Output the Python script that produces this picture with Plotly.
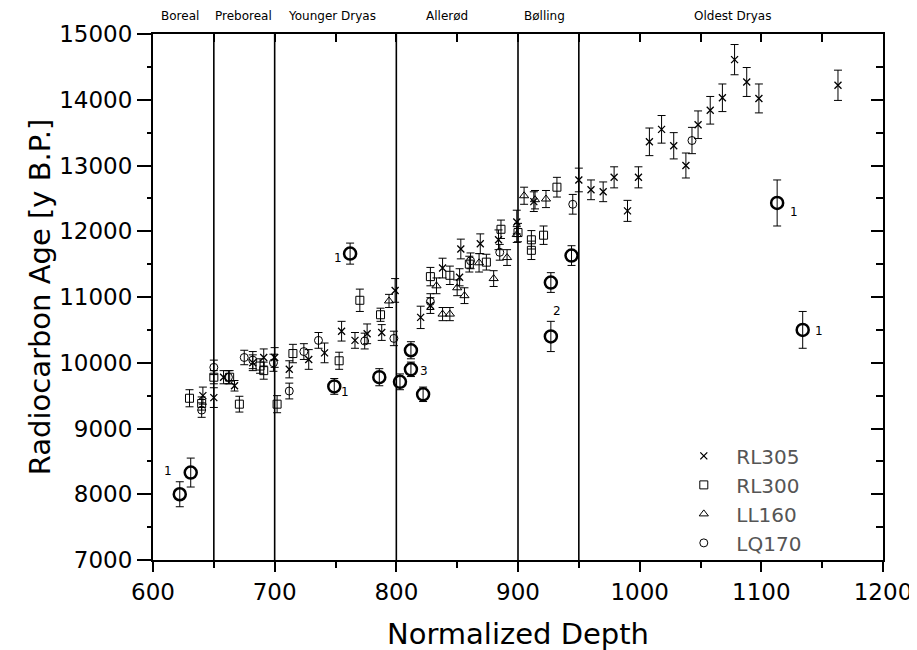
import plotly.graph_objects as go

# depth vs radiocarbon age, four cores
rl305_x = [641, 650, 658, 667, 682, 691, 700, 712, 728, 741, 755, 766, 776, 788, 799, 820, 828, 838,
           852, 853, 869, 884, 899, 913, 950, 960, 970, 979, 990, 999, 1008, 1018, 1028, 1038, 1048,
           1058, 1068, 1078, 1088, 1098, 1163]
rl305_y = [9500, 9470, 9780, 9650, 10000, 10080, 10080, 9900, 10050, 10150, 10480, 10340, 10440, 10460,
           11100, 10690, 10870, 11440, 11300, 11730, 11810, 11870, 12140, 12450, 12780, 12630, 12600,
           12820, 12310, 12820, 13360, 13550, 13300, 13000, 13620, 13840, 14030, 14610, 14270, 14020, 14220]
rl305_err = [130, 150, 100, 80, 120, 130, 150, 130, 150, 150, 150, 120, 150, 120, 180, 170, 120, 150,
             130, 150, 150, 150, 180, 150, 180, 150, 150, 160, 160, 160, 210, 210, 200, 190, 210,
             210, 210, 230, 220, 220, 230]

rl300_x = [630, 640, 650, 663, 671, 688, 691, 702, 715, 753, 770, 787, 828, 844, 860, 874, 886, 900,
           911, 911, 921, 932]
rl300_y = [9460, 9380, 9780, 9780, 9370, 9950, 9880, 9370, 10140, 10030, 10950, 10730, 11310, 11330,
           11500, 11530, 12030, 11980, 11870, 11710, 11940, 12670]
rl300_err = [130, 100, 100, 100, 120, 110, 130, 130, 140, 130, 170, 100, 140, 140, 120, 120, 140, 140,
             140, 140, 140, 150]

ll160_x = [794, 833, 838, 844, 850, 856, 868, 880, 891, 899, 905, 914, 923]
ll160_y = [10940, 11170, 10740, 10740, 11140, 11020, 11520, 11280, 11600, 11950, 12540, 12480, 12490]
ll160_err = [100, 120, 100, 100, 120, 120, 140, 120, 120, 120, 130, 140, 130]

lq170_x = [640, 650, 662, 675, 682, 699, 712, 724, 736, 774, 798, 828, 861, 885, 945, 1043]
lq170_y = [9280, 9930, 9780, 10080, 10040, 10000, 9570, 10170, 10340, 10330, 10370, 10930, 11550,
           11680, 12410, 13380]
lq170_err = [110, 110, 100, 110, 130, 130, 120, 120, 120, 120, 110, 120, 120, 120, 150, 200]

# LQ170 samples drawn heavier (outliers)
lq170b_x = [622, 631, 749, 762, 786, 803, 812, 812, 822, 927, 927, 944, 1113, 1134]
lq170b_y = [8000, 8330, 9640, 11660, 9780, 9710, 10190, 9900, 9520, 11220, 10400, 11630, 12430, 10500]
lq170b_err = [190, 220, 120, 160, 130, 120, 130, 110, 110, 150, 230, 150, 350, 280]

# outlier notes
note_x = [612, 758, 752, 823, 932, 1127, 1147]
note_y = [8350, 9560, 11590, 9880, 10790, 12290, 10480]
note_txt = ["1", "1", "1", "3", "2", "1", "1"]

# chronozones
zone_bounds = [650, 700, 800, 900, 950]
zone_names = ["Boreal", "Preboreal", "Younger Dryas", "Allerød", "Bølling", "Oldest Dryas"]
zone_label_x = [622, 674, 747, 842, 922, 1076]

x_range = [600, 1200]
y_range = [7000, 15000]

FONT = "DejaVu Sans"

fig = go.Figure()


def add_series(x, y, err, name, symbol, size, lw, legend=True):
    fig.add_trace(go.Scatter(
        x=x, y=y, mode="markers", name=name, showlegend=legend,
        marker=dict(symbol=symbol, size=size, color="black", line=dict(color="black", width=lw)),
        error_y=dict(type="data", array=err, visible=True, color="black", thickness=1, width=4),
    ))


add_series(rl305_x, rl305_y, rl305_err, "RL305", "x-thin-open", 7, 1.3)
add_series(rl300_x, rl300_y, rl300_err, "RL300", "square-open", 8, 1)
add_series(ll160_x, ll160_y, ll160_err, "LL160", "triangle-up-open", 8, 1)
add_series(lq170_x, lq170_y, lq170_err, "LQ170", "circle-open", 8, 1)
add_series(lq170b_x, lq170b_y, lq170b_err, "LQ170", "circle-open", 12, 2.5, legend=False)

# invisible helper so the top/right frame axes get drawn
fig.add_trace(go.Scatter(x=x_range, y=y_range, xaxis="x2", yaxis="y2", mode="none",
                         showlegend=False, hoverinfo="skip"))

for xb in zone_bounds:
    fig.add_shape(type="line", xref="x", yref="paper", x0=xb, x1=xb, y0=0, y1=1,
                  line=dict(color="black", width=1.6))

for name, xl in zip(zone_names, zone_label_x):
    fig.add_annotation(x=xl, y=1.035, xref="x", yref="paper", yanchor="middle", text=name,
                       showarrow=False, font=dict(size=12, color="black", family=FONT))

for xt, yt, t in zip(note_x, note_y, note_txt):
    fig.add_annotation(x=xt, y=yt, text=t, showarrow=False, font=dict(size=12, color="black", family=FONT))

axis_common = dict(showgrid=False, zeroline=False, showline=True, linecolor="black", linewidth=2,
                   tickcolor="black", tickwidth=1.5, automargin=False)

# the page body adds an 8px offset, margins account for it
fig.update_layout(
    width=917, height=650,
    margin=dict(l=145, r=42, t=26, b=98),
    paper_bgcolor="white", plot_bgcolor="white",
    font=dict(family=FONT, color="black"),
    xaxis=dict(range=x_range, dtick=100, ticks="outside", ticklen=10,
               tickfont=dict(size=23), minor=dict(dtick=50, ticks="outside", ticklen=6, tickcolor="black"),
               title=dict(text="Normalized Depth", font=dict(size=29), standoff=20), **axis_common),
    yaxis=dict(range=y_range, dtick=1000, ticks="outside", ticklen=14, tickformat="d",
               tickfont=dict(size=23), minor=dict(dtick=500, ticks="outside", ticklen=4, tickcolor="black"),
               title=dict(text="Radiocarbon Age [y B.P.]", font=dict(size=29), standoff=0), **axis_common),
    xaxis2=dict(range=x_range, overlaying="x", side="top", dtick=50, ticks="inside", ticklen=8,
                showticklabels=False, **axis_common),
    yaxis2=dict(range=y_range, overlaying="y", side="right", dtick=1000, ticks="inside", ticklen=12,
                showticklabels=False, minor=dict(dtick=500, ticks="inside", ticklen=7, tickcolor="black"),
                **axis_common),
    legend=dict(x=0.71, y=0.235, xanchor="left", yanchor="top", bgcolor="rgba(0,0,0,0)",
                font=dict(size=20, color="#555555"), itemwidth=55, tracegroupgap=0),
)

fig.write_html("out.html")
